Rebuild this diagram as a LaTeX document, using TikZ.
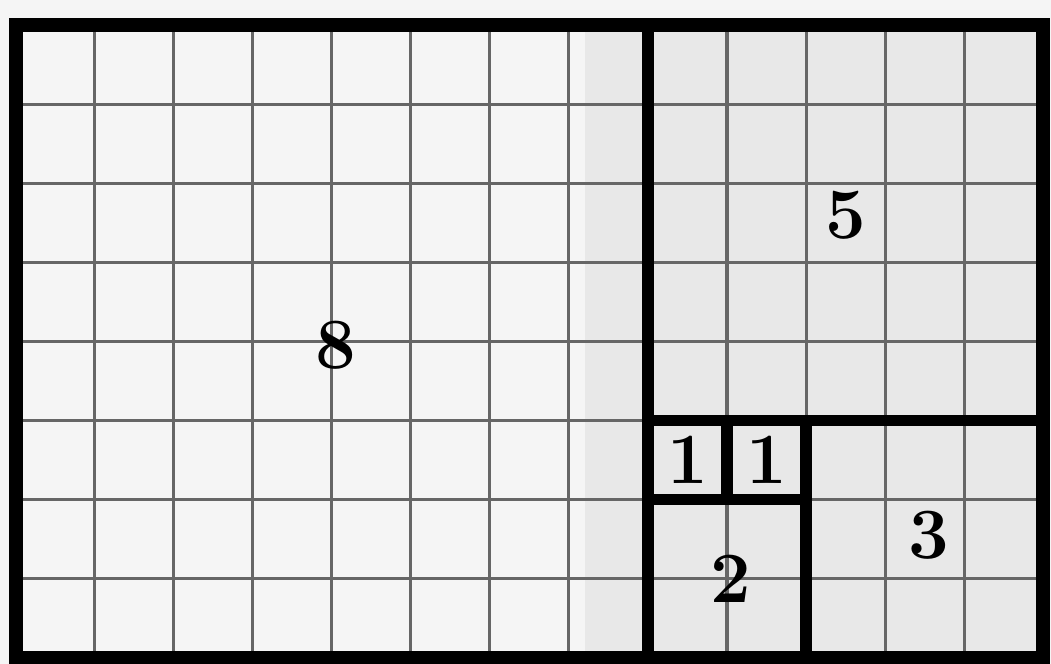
\documentclass[tikz,border=0pt]{standalone}
\usepackage{tikz}
\usetikzlibrary{positioning}

\tikzset{
  gridline/.style={black!60, line width=1.1pt},
  sqline/.style={black, line width=4pt},
  numlabel/.style={font=\fontsize{26}{30}\selectfont\bfseries, inner sep=0pt}
}

\begin{document}
\begin{tikzpicture}
  \useasboundingbox (-0.2,-0.08) rectangle (13.1,8.32);
  % Paper
  \fill[black!4] (-0.2,-0.08) rectangle (13.1,8.32);
  \fill[black!9] (7.2,0) rectangle (13,8);
  % Grid
  \draw[gridline] (0,0) grid[step=1] (13,8);
  % Squares
  \draw[sqline] (8,0) -- (8,8);
  \draw[sqline] (8,3) -- (13,3);
  \draw[sqline] (8,2) -- (10,2);
  \draw[sqline] (9,2) -- (9,3);
  \draw[sqline] (10,0) -- (10,3);
  % Outer frame
  \draw[black, line width=5pt] (0,0) rectangle (13,8);
  % Labels
  \node[numlabel] (eight) at (4.05,3.95) {8};
  \node[numlabel] (five) at (10.5,5.6) {5};
  \node[numlabel] (oneL) at (8.5,2.5) {1};
  \node[numlabel] (oneR) at (9.5,2.5) {1};
  \node[numlabel] (two) at (9.05,1.0) {2};
  \node[numlabel] (three) at (11.55,1.55) {3};
\end{tikzpicture}
\end{document}
